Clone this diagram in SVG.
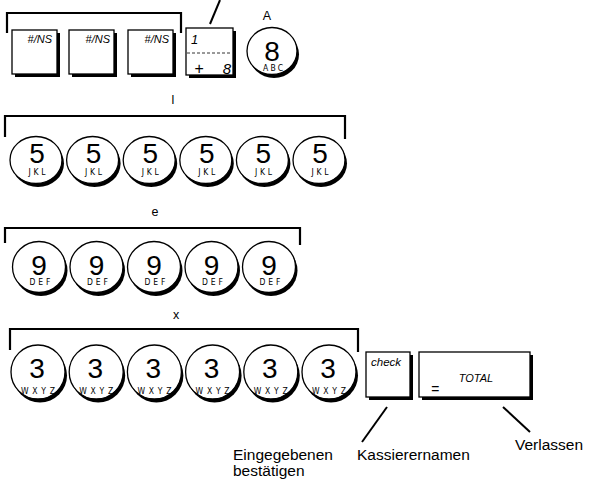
<svg xmlns="http://www.w3.org/2000/svg" width="589" height="483" viewBox="0 0 589 483">
<defs>
<style>
.br{fill:none;stroke:#000;stroke-width:2.2}
.kb{fill:#fff;stroke:#000;stroke-width:1.3}
.sh{fill:#000}
.ln{stroke:#000;stroke-width:2;fill:none}
.lbl{font-family:"Liberation Sans",Arial,sans-serif;font-size:12.5px;fill:#000;text-anchor:middle}
.ital{font-family:"Liberation Sans",Arial,sans-serif;font-style:italic;fill:#000}
.dig{font-family:"Liberation Sans",Arial,sans-serif;font-size:28px;fill:#000;text-anchor:middle}
.sub{font-family:"DejaVu Sans Condensed","Liberation Sans",sans-serif;font-size:8.5px;fill:#000;text-anchor:middle}
.cap{font-family:"Liberation Sans",Arial,sans-serif;font-size:15.5px;fill:#000}
</style>
<g id="ck8"><ellipse class="sh" cx="2" cy="3.5" rx="25" ry="23.5"/><ellipse class="kb" cx="0" cy="0" rx="25" ry="23.5"/></g>
<g id="ck2"><ellipse class="sh" cx="2" cy="3.5" rx="26" ry="23.5"/><ellipse class="kb" cx="0" cy="0" rx="26" ry="23.5"/></g>
<g id="ck3"><ellipse class="sh" cx="2" cy="3.5" rx="26.5" ry="25.5"/><ellipse class="kb" cx="0" cy="0" rx="26.5" ry="25.5"/></g>
<g id="ck4"><ellipse class="sh" cx="2" cy="3.5" rx="27" ry="27"/><ellipse class="kb" cx="0" cy="0" rx="27" ry="27"/></g>
</defs>

<g id="connectors">
<path class="br" d="M7,33 V13 H181 V33"/>
<path class="br" d="M5,137 V116 H345 V139"/>
<path class="br" d="M5,243 V228 H300 V245"/>
<path class="br" d="M10,350 V329 H358 V352"/>
<line class="ln" x1="220" y1="0" x2="210" y2="24"/>
<line class="ln" x1="387" y1="407" x2="362" y2="442"/>
<line class="ln" x1="503" y1="407" x2="530" y2="432"/>
</g>

<g id="labels">
<text class="lbl" x="267" y="20">A</text>
<text class="lbl" x="173" y="104">l</text>
<text class="lbl" x="155" y="216">e</text>
<text class="lbl" x="176" y="319">x</text>
<text class="cap" x="233" y="460">Eingegebenen</text>
<text class="cap" x="233" y="476">bestätigen</text>
<text class="cap" x="357" y="460">Kassierernamen</text>
<text class="cap" x="515" y="450">Verlassen</text>
</g>

<g id="key-ns1">
<rect class="sh" x="15" y="33" width="45" height="44"/>
<rect class="kb" x="12" y="30" width="45" height="44"/>
<text class="ital" x="52" y="43" font-size="11" text-anchor="end">#/NS</text>
</g>
<g id="key-ns2">
<rect class="sh" x="72" y="33" width="45" height="44"/>
<rect class="kb" x="69" y="30" width="45" height="44"/>
<text class="ital" x="110" y="43" font-size="11" text-anchor="end">#/NS</text>
</g>
<g id="key-ns3">
<rect class="sh" x="131" y="33" width="45" height="44"/>
<rect class="kb" x="128" y="30" width="45" height="44"/>
<text class="ital" x="169" y="43" font-size="11" text-anchor="end">#/NS</text>
</g>
<g id="key-plus">
<rect class="sh" x="189" y="31" width="47" height="47"/>
<rect class="kb" x="186" y="28" width="47" height="47"/>
<line x1="187" y1="53" x2="232" y2="53" stroke="#000" stroke-width="0.8" stroke-dasharray="3,2"/>
<text class="ital" x="191" y="44" font-size="13">1</text>
<text class="ital" x="199" y="74" font-size="16" text-anchor="middle">+</text>
<text class="ital" x="227" y="74" font-size="15" text-anchor="middle">8</text>
</g>
<g id="key-8">
<use href="#ck8" x="272" y="51"/>
<text class="dig" x="272" y="61">8</text>
<text class="sub" x="273" y="71" textLength="20" lengthAdjust="spacing">ABC</text>
</g>

<g id="row-5">
<use href="#ck2" x="36" y="160"/><text class="dig" x="37" y="163">5</text><text class="sub" x="37" y="175" textLength="17" lengthAdjust="spacing">JKL</text>
<use href="#ck2" x="92.6" y="160"/><text class="dig" x="93.6" y="163">5</text><text class="sub" x="93.6" y="175" textLength="17" lengthAdjust="spacing">JKL</text>
<use href="#ck2" x="149.2" y="160"/><text class="dig" x="150.2" y="163">5</text><text class="sub" x="150.2" y="175" textLength="17" lengthAdjust="spacing">JKL</text>
<use href="#ck2" x="205.8" y="160"/><text class="dig" x="206.8" y="163">5</text><text class="sub" x="206.8" y="175" textLength="17" lengthAdjust="spacing">JKL</text>
<use href="#ck2" x="262.4" y="160"/><text class="dig" x="263.4" y="163">5</text><text class="sub" x="263.4" y="175" textLength="17" lengthAdjust="spacing">JKL</text>
<use href="#ck2" x="319" y="160"/><text class="dig" x="320" y="163">5</text><text class="sub" x="320" y="175" textLength="17" lengthAdjust="spacing">JKL</text>
</g>

<g id="row-9">
<use href="#ck3" x="39" y="267"/><text class="dig" x="39" y="275">9</text><text class="sub" x="40" y="285" textLength="21" lengthAdjust="spacing">DEF</text>
<use href="#ck3" x="96.5" y="267"/><text class="dig" x="96.5" y="275">9</text><text class="sub" x="97.5" y="285" textLength="21" lengthAdjust="spacing">DEF</text>
<use href="#ck3" x="154" y="267"/><text class="dig" x="154" y="275">9</text><text class="sub" x="155" y="285" textLength="21" lengthAdjust="spacing">DEF</text>
<use href="#ck3" x="211.5" y="267"/><text class="dig" x="211.5" y="275">9</text><text class="sub" x="212.5" y="285" textLength="21" lengthAdjust="spacing">DEF</text>
<use href="#ck3" x="269" y="267"/><text class="dig" x="269" y="275">9</text><text class="sub" x="270" y="285" textLength="21" lengthAdjust="spacing">DEF</text>
</g>

<g id="row-3">
<use href="#ck4" x="38" y="372"/><text class="dig" x="37" y="378">3</text><text class="sub" x="38" y="394" font-size="9" textLength="34" lengthAdjust="spacing">WXYZ</text>
<use href="#ck4" x="96.2" y="372"/><text class="dig" x="95.2" y="378">3</text><text class="sub" x="96.2" y="394" font-size="9" textLength="34" lengthAdjust="spacing">WXYZ</text>
<use href="#ck4" x="154.4" y="372"/><text class="dig" x="153.4" y="378">3</text><text class="sub" x="154.4" y="394" font-size="9" textLength="34" lengthAdjust="spacing">WXYZ</text>
<use href="#ck4" x="212.6" y="372"/><text class="dig" x="211.6" y="378">3</text><text class="sub" x="212.6" y="394" font-size="9" textLength="34" lengthAdjust="spacing">WXYZ</text>
<use href="#ck4" x="270.8" y="372"/><text class="dig" x="269.8" y="378">3</text><text class="sub" x="270.8" y="394" font-size="9" textLength="34" lengthAdjust="spacing">WXYZ</text>
<use href="#ck4" x="329" y="372"/><text class="dig" x="328" y="378">3</text><text class="sub" x="329" y="394" font-size="9" textLength="34" lengthAdjust="spacing">WXYZ</text>
</g>

<g id="key-check">
<rect class="sh" x="369" y="355" width="44" height="45"/>
<rect class="kb" x="366" y="352" width="44" height="45"/>
<text class="ital" x="371" y="366" font-size="11.5">check</text>
</g>
<g id="key-total">
<rect class="sh" x="422" y="355" width="111" height="45"/>
<rect class="kb" x="419" y="352" width="111" height="45"/>
<text class="ital" x="476" y="382" font-size="11" text-anchor="middle">TOTAL</text>
<text class="ital" x="435" y="394" font-size="14" text-anchor="middle">=</text>
</g>
</svg>
